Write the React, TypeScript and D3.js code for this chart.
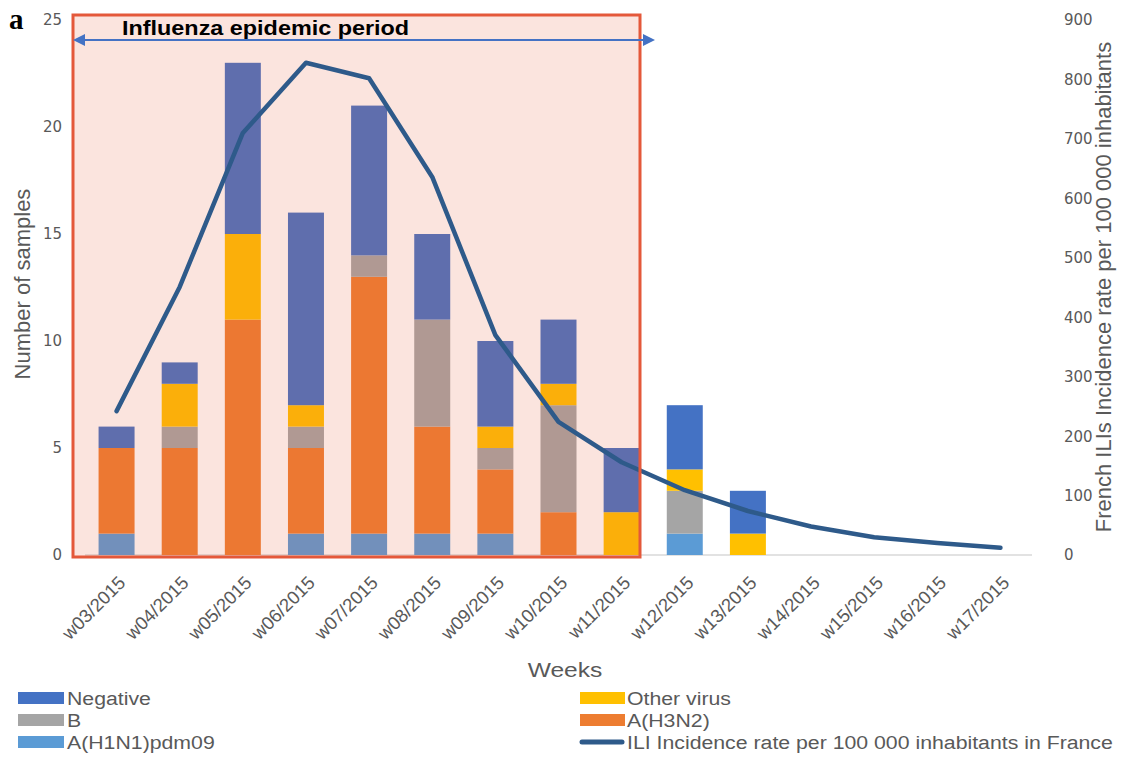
import React from "react";
import * as d3 from "d3";

const weeks = ["w03/2015","w04/2015","w05/2015","w06/2015","w07/2015","w08/2015","w09/2015","w10/2015","w11/2015","w12/2015","w13/2015","w14/2015","w15/2015","w16/2015","w17/2015"];
const h1n1 = [1,0,0,1,1,1,1,0,0,1,0,0,0,0,0];
const h3n2 = [4,5,11,4,12,5,3,2,0,0,0,0,0,0,0];
const bVals = [0,1,0,1,1,5,1,5,0,2,0,0,0,0,0];
const otherVirus = [0,2,4,1,0,0,1,1,2,1,1,0,0,0,0];
const negative = [1,1,8,9,7,4,4,3,3,3,2,0,0,0,0];
const iliRate = [242,451,710,828,802,636,370,224,156,109,74,48,30,20,12];
const leftTicks = [0,5,10,15,20,25];
const rightTicks = [0,100,200,300,400,500,600,700,800,900];

const seriesKeys = ["h1n1","h3n2","b","other","negative"];
const colors: Record<string,string> = {
  negative: "#4472c4", b: "#a5a5a5", other: "#ffc000", h3n2: "#ed7d31", h1n1: "#5b9bd5",
};
const LINE = "#2e5a8a";
const GRAY = "#595959";
const SX = 1.17;
const LSX = 1.12;

export default function App() {
  const W = 1126, H = 758;
  const x = d3.scaleBand<string>().domain(weeks).range([85, 1032]).paddingInner(0.43).paddingOuter(0.215);
  const y = d3.scaleLinear().domain([0, 25]).range([555, 20]);
  const y2 = d3.scaleLinear().domain([0, 900]).range([555, 20]);
  const rows = weeks.map((w, i) => ({ week: w, h1n1: h1n1[i], h3n2: h3n2[i], b: bVals[i], other: otherVirus[i], negative: negative[i] }));
  const stacked = d3.stack<any>().keys(seriesKeys)(rows);
  const line = d3.line<number>().x((_, i) => x(weeks[i])! + x.bandwidth() / 2).y(d => y2(d));

  const rectX0 = 73, rectX1 = 640, rectY0 = 15, rectY1 = 557;

  const legendLeft = [
    { key: "negative", label: "Negative" },
    { key: "b", label: "B" },
    { key: "h1n1", label: "A(H1N1)pdm09" },
  ];
  const legendRight = [
    { key: "other", label: "Other virus" },
    { key: "h3n2", label: "A(H3N2)" },
    { key: "line", label: "ILI Incidence rate per 100 000 inhabitants in France" },
  ];
  const rowY = [698, 720, 742];

  return (
    <svg width={W} height={H} style={{ position: "absolute", left: 0, top: 0, background: "#fff" }} fontFamily="Liberation Sans, Arial, sans-serif">
      <rect x={0} y={0} width={W} height={H} fill="#fff" />
      {/* baseline */}
      <line x1={85} x2={1032} y1={555} y2={555} stroke="#d9d9d9" strokeWidth={1.5} />
      {/* bars */}
      {stacked.map(s => (
        <g key={s.key} fill={colors[s.key]}>
          {s.map((d, i) => d[1] - d[0] > 0 ? (
            <rect key={i} x={x(weeks[i])} width={x.bandwidth()} y={y(d[1])} height={y(d[0]) - y(d[1])} />
          ) : null)}
        </g>
      ))}
      {/* epidemic overlay */}
      <rect x={rectX0} y={rectY0} width={rectX1 - rectX0} height={rectY1 - rectY0} fill="rgb(232,96,60)" fillOpacity={0.17} />
      {/* ILI line */}
      <path d={line(iliRate)!} fill="none" stroke={LINE} strokeWidth={4.5} strokeLinejoin="round" strokeLinecap="round" />
      <rect x={rectX0} y={rectY0} width={rectX1 - rectX0} height={rectY1 - rectY0} fill="none" stroke="#e4583a" strokeWidth={3} />
      {/* arrow */}
      <line x1={82} x2={646} y1={40} y2={40} stroke="#4472c4" strokeWidth={2} />
      <path d="M73,40 L85,34 L85,46 Z" fill="#4472c4" />
      <path d="M655,40 L643,34 L643,46 Z" fill="#4472c4" />
      <text transform={`translate(122,35) scale(${SX},1)`} fontSize={20} fontWeight="bold" fill="#000">Influenza epidemic period</text>
      {/* panel letter */}
      <text x={9} y={29} fontFamily="Liberation Serif, Times New Roman, serif" fontWeight="bold" fontSize={29} fill="#000">a</text>
      {/* left ticks */}
      {leftTicks.map(t => (
        <text key={t} x={62} y={y(t)} dy="0.36em" textAnchor="end" fontFamily="DejaVu Sans, Verdana, sans-serif" fontSize={15} fill={GRAY}>{t}</text>
      ))}
      {/* right ticks */}
      {rightTicks.map(t => (
        <text key={t} x={1064} y={y2(t)} dy="0.36em" textAnchor="start" fontFamily="DejaVu Sans, Verdana, sans-serif" fontSize={15} fill={GRAY}>{t}</text>
      ))}
      {/* axis titles */}
      <text transform={`translate(30,284) rotate(-90)`} textAnchor="middle" fontSize={22} fill={GRAY}>Number of samples</text>
      <text transform={`translate(1111,287) rotate(-90)`} textAnchor="middle" fontSize={22} fill={GRAY}>French ILIs Incidence rate per 100 000 inhabitants</text>
      {/* x tick labels */}
      {weeks.map(w => (
        <text key={w} transform={`translate(${x(w)! + x.bandwidth() / 2 + 10},584) rotate(-45)`} textAnchor="end" fontSize={18.5} fill={GRAY}>{w}</text>
      ))}
      <text transform={`translate(565,677) scale(${SX},1)`} textAnchor="middle" fontSize={21} fill={GRAY}>Weeks</text>
      {/* legend */}
      {legendLeft.map((l, i) => (
        <g key={l.key}>
          <rect x={18} y={rowY[i] - 6} width={46} height={12} fill={colors[l.key]} />
          <text transform={`translate(67,${rowY[i] + 7}) scale(${LSX},1)`} fontSize={19} fill={GRAY}>{l.label}</text>
        </g>
      ))}
      {legendRight.map((l, i) => (
        <g key={l.key}>
          {l.key === "line" ? (
            <line x1={582} x2={622} y1={rowY[i]} y2={rowY[i]} stroke={LINE} strokeWidth={5} strokeLinecap="round" />
          ) : (
            <rect x={580} y={rowY[i] - 6} width={45} height={12} fill={colors[l.key]} />
          )}
          <text transform={`translate(627,${rowY[i] + 7}) scale(${LSX},1)`} fontSize={19} fill={GRAY}>{l.label}</text>
        </g>
      ))}
    </svg>
  );
}
